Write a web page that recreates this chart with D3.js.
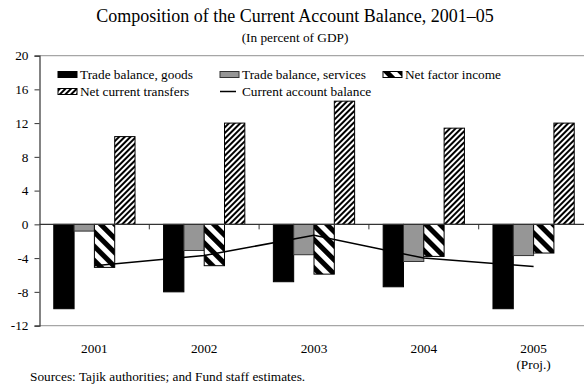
<!DOCTYPE html>
<html>
<head>
<meta charset="utf-8">
<script src="https://cdn.jsdelivr.net/npm/d3@7"></script>
<style>
  html, body { margin: 0; padding: 0; background: #fff; }
  svg { display: block; }
  text { font-family: "Liberation Serif", "Times New Roman", serif; fill: #000; }
</style>
</head>
<body>
<svg id="chart" width="584" height="385"></svg>
<script>
// Composition of the current account balance, percent of GDP
const years = ["2001", "2002", "2003", "2004", "2005"];
const goods = [-10.0, -8.0, -6.8, -7.4, -10.0];
const services = [-0.8, -3.1, -3.6, -4.4, -3.7];
const netFactor = [-5.1, -4.9, -5.9, -3.8, -3.4];
const transfers = [10.4, 12.0, 14.6, 11.4, 12.0];
const currentAccount = [-4.9, -3.7, -1.3, -4.0, -5.0];
const yTicks = [-12, -8, -4, 0, 4, 8, 12, 16, 20];
const seriesNames = ["Trade balance, goods", "Trade balance, services", "Net factor income", "Net current transfers"];
const lineName = "Current account balance";

const FONT = '"Liberation Serif", "Times New Roman", serif';
const svg = d3.select("#chart");
const defs = svg.append("defs");

// Wide "\" stripes for net factor income
const pNfi = defs.append("pattern").attr("id", "hatch-nfi")
  .attr("patternUnits", "userSpaceOnUse").attr("width", 10).attr("height", 10)
  .attr("patternTransform", "rotate(-45)");
pNfi.append("rect").attr("width", 10).attr("height", 10).attr("fill", "#fff");
pNfi.append("rect").attr("width", 5).attr("height", 10).attr("fill", "#000");

// Fine "/" stripes for net current transfers
const pTr = defs.append("pattern").attr("id", "hatch-tr")
  .attr("patternUnits", "userSpaceOnUse").attr("width", 4).attr("height", 4)
  .attr("patternTransform", "rotate(45)");
pTr.append("rect").attr("width", 4).attr("height", 4).attr("fill", "#fff");
pTr.append("rect").attr("width", 2).attr("height", 4).attr("fill", "#000");

const styles = [
  { fill: "#000", stroke: "#000" },
  { fill: "#969696", stroke: "#333" },
  { fill: "url(#hatch-nfi)", stroke: "#000" },
  { fill: "url(#hatch-tr)", stroke: "#000" }
];
const seriesValues = [goods, services, netFactor, transfers];

const left = 39.5, right = 588.5;
const y = d3.scaleLinear().domain([-12, 20]).range([325.6, 55.6]);
const x = d3.scaleBand().domain(years).range([left, right])
  .paddingInner(0.26).paddingOuter(0.13);
const xs = d3.scaleBand().domain(d3.range(4)).range([0, x.bandwidth()]);

// Title
svg.append("text").attr("x", 295).attr("y", 22).attr("text-anchor", "middle")
  .style("font-size", "18px").text("Composition of the Current Account Balance, 2001\u201305");
svg.append("text").attr("x", 295).attr("y", 42).attr("text-anchor", "middle")
  .style("font-size", "13.3px").text("(In percent of GDP)");

// Plot frame top and bottom
svg.append("line").attr("x1", left).attr("x2", 584).attr("y1", y(20)).attr("y2", y(20))
  .attr("stroke", "#a6a6a6").attr("stroke-width", 1.2);
svg.append("line").attr("x1", left).attr("x2", 584).attr("y1", y(-12)).attr("y2", y(-12))
  .attr("stroke", "#a6a6a6").attr("stroke-width", 1.2);

// Bars
const g = svg.append("g");
seriesValues.forEach((vals, si) => {
  g.selectAll(null).data(vals).enter().append("rect")
    .attr("x", (d, i) => x(years[i]) + xs(si))
    .attr("width", xs.bandwidth())
    .attr("y", d => y(Math.max(0, d)))
    .attr("height", d => Math.abs(y(d) - y(0)))
    .attr("fill", styles[si].fill)
    .attr("stroke", styles[si].stroke)
    .attr("stroke-width", 1);
});

// Current account balance line
const line = d3.line().x((d, i) => x(years[i]) + x.bandwidth() / 2).y(d => y(d));
svg.append("path").datum(currentAccount).attr("d", line)
  .attr("fill", "none").attr("stroke", "#000").attr("stroke-width", 1.5);

// Y axis (plain hyphen for negatives)
const yAxis = d3.axisLeft(y).tickValues(yTicks).tickSize(5).tickPadding(6).tickFormat(d => String(d));
const ya = svg.append("g").attr("transform", `translate(${left},0)`).call(yAxis);
ya.attr("font-family", FONT).attr("font-size", "13.3px");
ya.select(".domain").attr("stroke", "#333").attr("stroke-width", 1.2);
ya.selectAll(".tick line").attr("stroke", "#333");
ya.selectAll(".tick text").attr("fill", "#000");

// Zero line with category ticks
svg.append("line").attr("x1", left).attr("x2", right).attr("y1", y(0)).attr("y2", y(0))
  .attr("stroke", "#333").attr("stroke-width", 1.2);
const bounds = years.map(yr => x(yr) - x.step() * x.paddingInner() / 2).slice(1);
svg.selectAll(null).data(bounds).enter().append("line")
  .attr("x1", d => d).attr("x2", d => d).attr("y1", y(0)).attr("y2", y(0) + 5)
  .attr("stroke", "#333");

// Category labels
svg.selectAll(null).data(years).enter().append("text")
  .attr("x", d => x(d) + x.bandwidth() / 2).attr("y", 353).attr("text-anchor", "middle")
  .style("font-size", "13.3px").text(d => d);
svg.append("text").attr("x", x("2005") + x.bandwidth() / 2).attr("y", 369).attr("text-anchor", "middle")
  .style("font-size", "13.3px").text("(Proj.)");

// Source note
svg.append("text").attr("x", 30).attr("y", 381).style("font-size", "13.3px")
  .text("Sources: Tajik authorities; and Fund staff estimates.");

// Legend
const legendItems = [
  { name: seriesNames[0], style: styles[0], x: 58, row: 0 },
  { name: seriesNames[1], style: styles[1], x: 220, row: 0 },
  { name: seriesNames[2], style: styles[2], x: 383, row: 0 },
  { name: seriesNames[3], style: styles[3], x: 58, row: 1 },
  { name: lineName, style: null, x: 220, row: 1 }
];
const lg = svg.append("g");
legendItems.forEach(it => {
  const cy = it.row === 0 ? 74.5 : 91.5;
  if (it.style) {
    lg.append("rect").attr("x", it.x).attr("y", cy - 3).attr("width", 19).attr("height", 6)
      .attr("fill", it.style.fill).attr("stroke", it.style.stroke).attr("stroke-width", 1);
  } else {
    lg.append("line").attr("x1", it.x).attr("x2", it.x + 16).attr("y1", cy).attr("y2", cy)
      .attr("stroke", "#000").attr("stroke-width", 1.5);
  }
  lg.append("text").attr("x", it.x + 22).attr("y", cy + 4.5).style("font-size", "13.3px").text(it.name);
});
</script>
</body>
</html>
